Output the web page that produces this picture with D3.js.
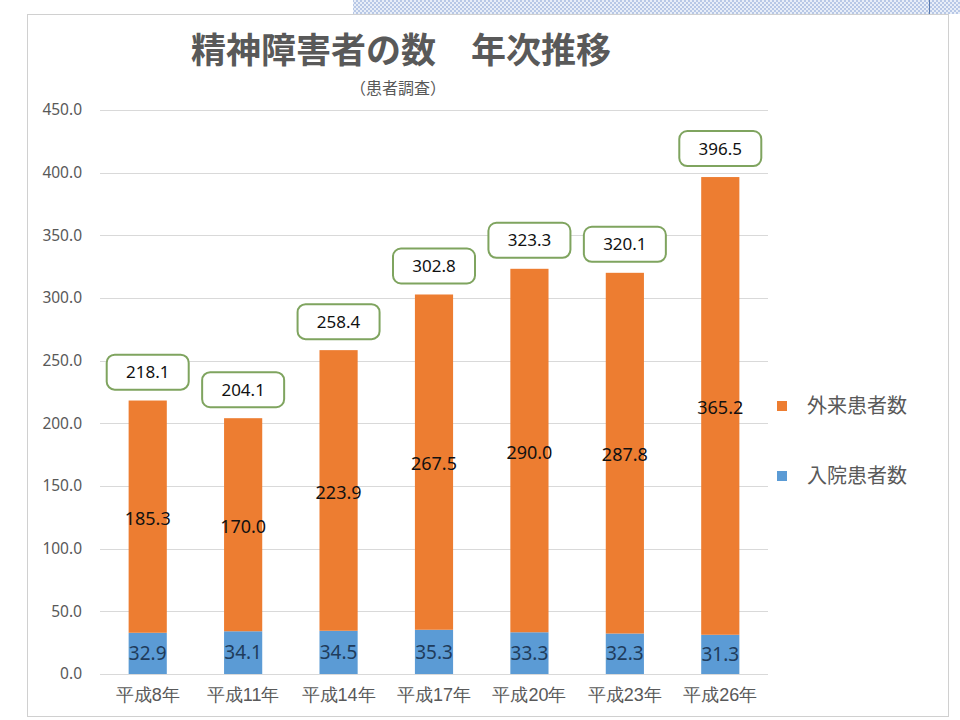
<!DOCTYPE html>
<html><head><meta charset="utf-8">
<script src="https://cdn.jsdelivr.net/npm/d3@7"></script>
<style>
body{margin:0;background:#fff;}
svg{display:block;font-family:"Noto Sans CJK JP","Noto Sans",sans-serif;}
</style></head><body>
<svg id="c" width="960" height="720"></svg>
<script>
const categories = ["平成8年","平成11年","平成14年","平成17年","平成20年","平成23年","平成26年"];
const inpatient = [32.9,34.1,34.5,35.3,33.3,32.3,31.3];
const outpatient = [185.3,170.0,223.9,267.5,290.0,287.8,365.2];
const totals = [218.1,204.1,258.4,302.8,323.3,320.1,396.5];
const yTicks = [0,50,100,150,200,250,300,350,400,450];
const seriesNames = ["外来患者数","入院患者数"];
const colors = {out:"#ed7d31", in:"#5b9bd5"};

const svg = d3.select("#c");
const defs = svg.append("defs");
const pat = defs.append("pattern").attr("id","dots").attr("width",4).attr("height",4).attr("patternUnits","userSpaceOnUse");
pat.append("rect").attr("width",4).attr("height",4).attr("fill","#e8eef8");
pat.append("rect").attr("width",2).attr("height",2).attr("fill","#b8c8e6");
pat.append("rect").attr("x",2).attr("y",2).attr("width",2).attr("height",2).attr("fill","#b8c8e6");
svg.append("rect").attr("x",353).attr("y",0).attr("width",607).attr("height",14).attr("fill","url(#dots)");
svg.append("line").attr("x1",929.5).attr("x2",929.5).attr("y1",0).attr("y2",14).attr("stroke","#5a7bb0").attr("stroke-width",1);

// frame
svg.append("rect").attr("x",27.5).attr("y",14.5).attr("width",921).attr("height",702).attr("fill","#fff").attr("stroke","#d0d0d0");

const x = d3.scaleBand().domain(categories).range([100,768]).paddingInner(0.6).paddingOuter(0.3);
const y = d3.scaleLinear().domain([0,450]).range([674,110]);

// gridlines
svg.append("g").selectAll("line").data(yTicks).join("line")
  .attr("x1",100).attr("x2",768)
  .attr("y1",d=>Math.round(y(d))+0.5).attr("y2",d=>Math.round(y(d))+0.5)
  .attr("stroke","#d9d9d9");

// y labels
const yAxis = d3.axisLeft(y).tickValues(yTicks).tickFormat(d3.format(".1f")).tickSize(0).tickPadding(0);
const ya = svg.append("g").attr("transform","translate(82,0)").call(yAxis);
ya.select(".domain").remove();
ya.selectAll("text").attr("fill","#595959").attr("font-size",15.5).attr("font-family","'Noto Sans',sans-serif");

// x labels
const xAxis = d3.axisBottom(x).tickSize(0).tickPadding(0);
const xa = svg.append("g").attr("transform","translate(0,688)").call(xAxis);
xa.select(".domain").remove();
xa.selectAll("text").attr("fill","#595959").attr("font-size",18);

// bars
const bw = x.bandwidth();
svg.append("g").selectAll("rect").data(categories).join("rect")
  .attr("x",d=>x(d)).attr("width",bw)
  .attr("y",(d,i)=>y(inpatient[i])).attr("height",(d,i)=>y(0)-y(inpatient[i]))
  .attr("fill",colors.in);
svg.append("g").selectAll("rect").data(categories).join("rect")
  .attr("x",d=>x(d)).attr("width",bw)
  .attr("y",(d,i)=>y(inpatient[i]+outpatient[i])).attr("height",(d,i)=>y(inpatient[i])-y(inpatient[i]+outpatient[i]))
  .attr("fill",colors.out);

// labels inside
svg.append("g").selectAll("text").data(categories).join("text")
  .attr("x",d=>x(d)+bw/2).attr("y",(d,i)=>(y(0)+y(inpatient[i]))/2)
  .attr("dy","0.35em").attr("text-anchor","middle").attr("font-size",19)
  .attr("font-family","'Noto Sans',sans-serif").attr("fill","#1f3c5c")
  .text((d,i)=>inpatient[i].toFixed(1));
svg.append("g").selectAll("text").data(categories).join("text")
  .attr("x",d=>x(d)+bw/2).attr("y",(d,i)=>(y(inpatient[i])+y(inpatient[i]+outpatient[i]))/2+2)
  .attr("dy","0.35em").attr("text-anchor","middle").attr("font-size",18)
  .attr("font-family","'Noto Sans',sans-serif").attr("fill","#111")
  .text((d,i)=>outpatient[i].toFixed(1));

// total boxes
const tb = svg.append("g").selectAll("g").data(categories).join("g")
  .attr("transform",(d,i)=>`translate(${x(d)+bw/2},${y(totals[i])-11})`);
tb.append("rect").attr("x",-41).attr("y",-35).attr("width",82).attr("height",35).attr("rx",8)
  .attr("fill","#fff").attr("stroke","#7fa45f").attr("stroke-width",2);
tb.append("text").attr("y",-17.5).attr("dy","0.35em").attr("text-anchor","middle")
  .attr("font-size",17).attr("font-family","'Noto Sans',sans-serif").attr("fill","#111")
  .text((d,i)=>totals[i].toFixed(1));

// legend
const lg = svg.append("g").selectAll("g").data(seriesNames).join("g")
  .attr("transform",(d,i)=>`translate(777,${406+i*70})`);
lg.append("rect").attr("x",0).attr("y",-5).attr("width",10).attr("height",10)
  .attr("fill",(d,i)=>i===0?colors.out:colors.in);
lg.append("text").attr("x",30).attr("dy","0.35em").attr("font-size",20).attr("fill","#595959").text(d=>d);

// title
svg.append("text").attr("x",401).attr("y",63).attr("text-anchor","middle")
  .attr("font-size",35).attr("font-weight","bold").attr("fill","#595959")
  .attr("xml:space","preserve").text("精神障害者の数　年次推移");
svg.append("text").attr("x",398).attr("y",94).attr("text-anchor","middle")
  .attr("font-size",16).attr("fill","#595959").text("（患者調査）");
</script></body></html>
